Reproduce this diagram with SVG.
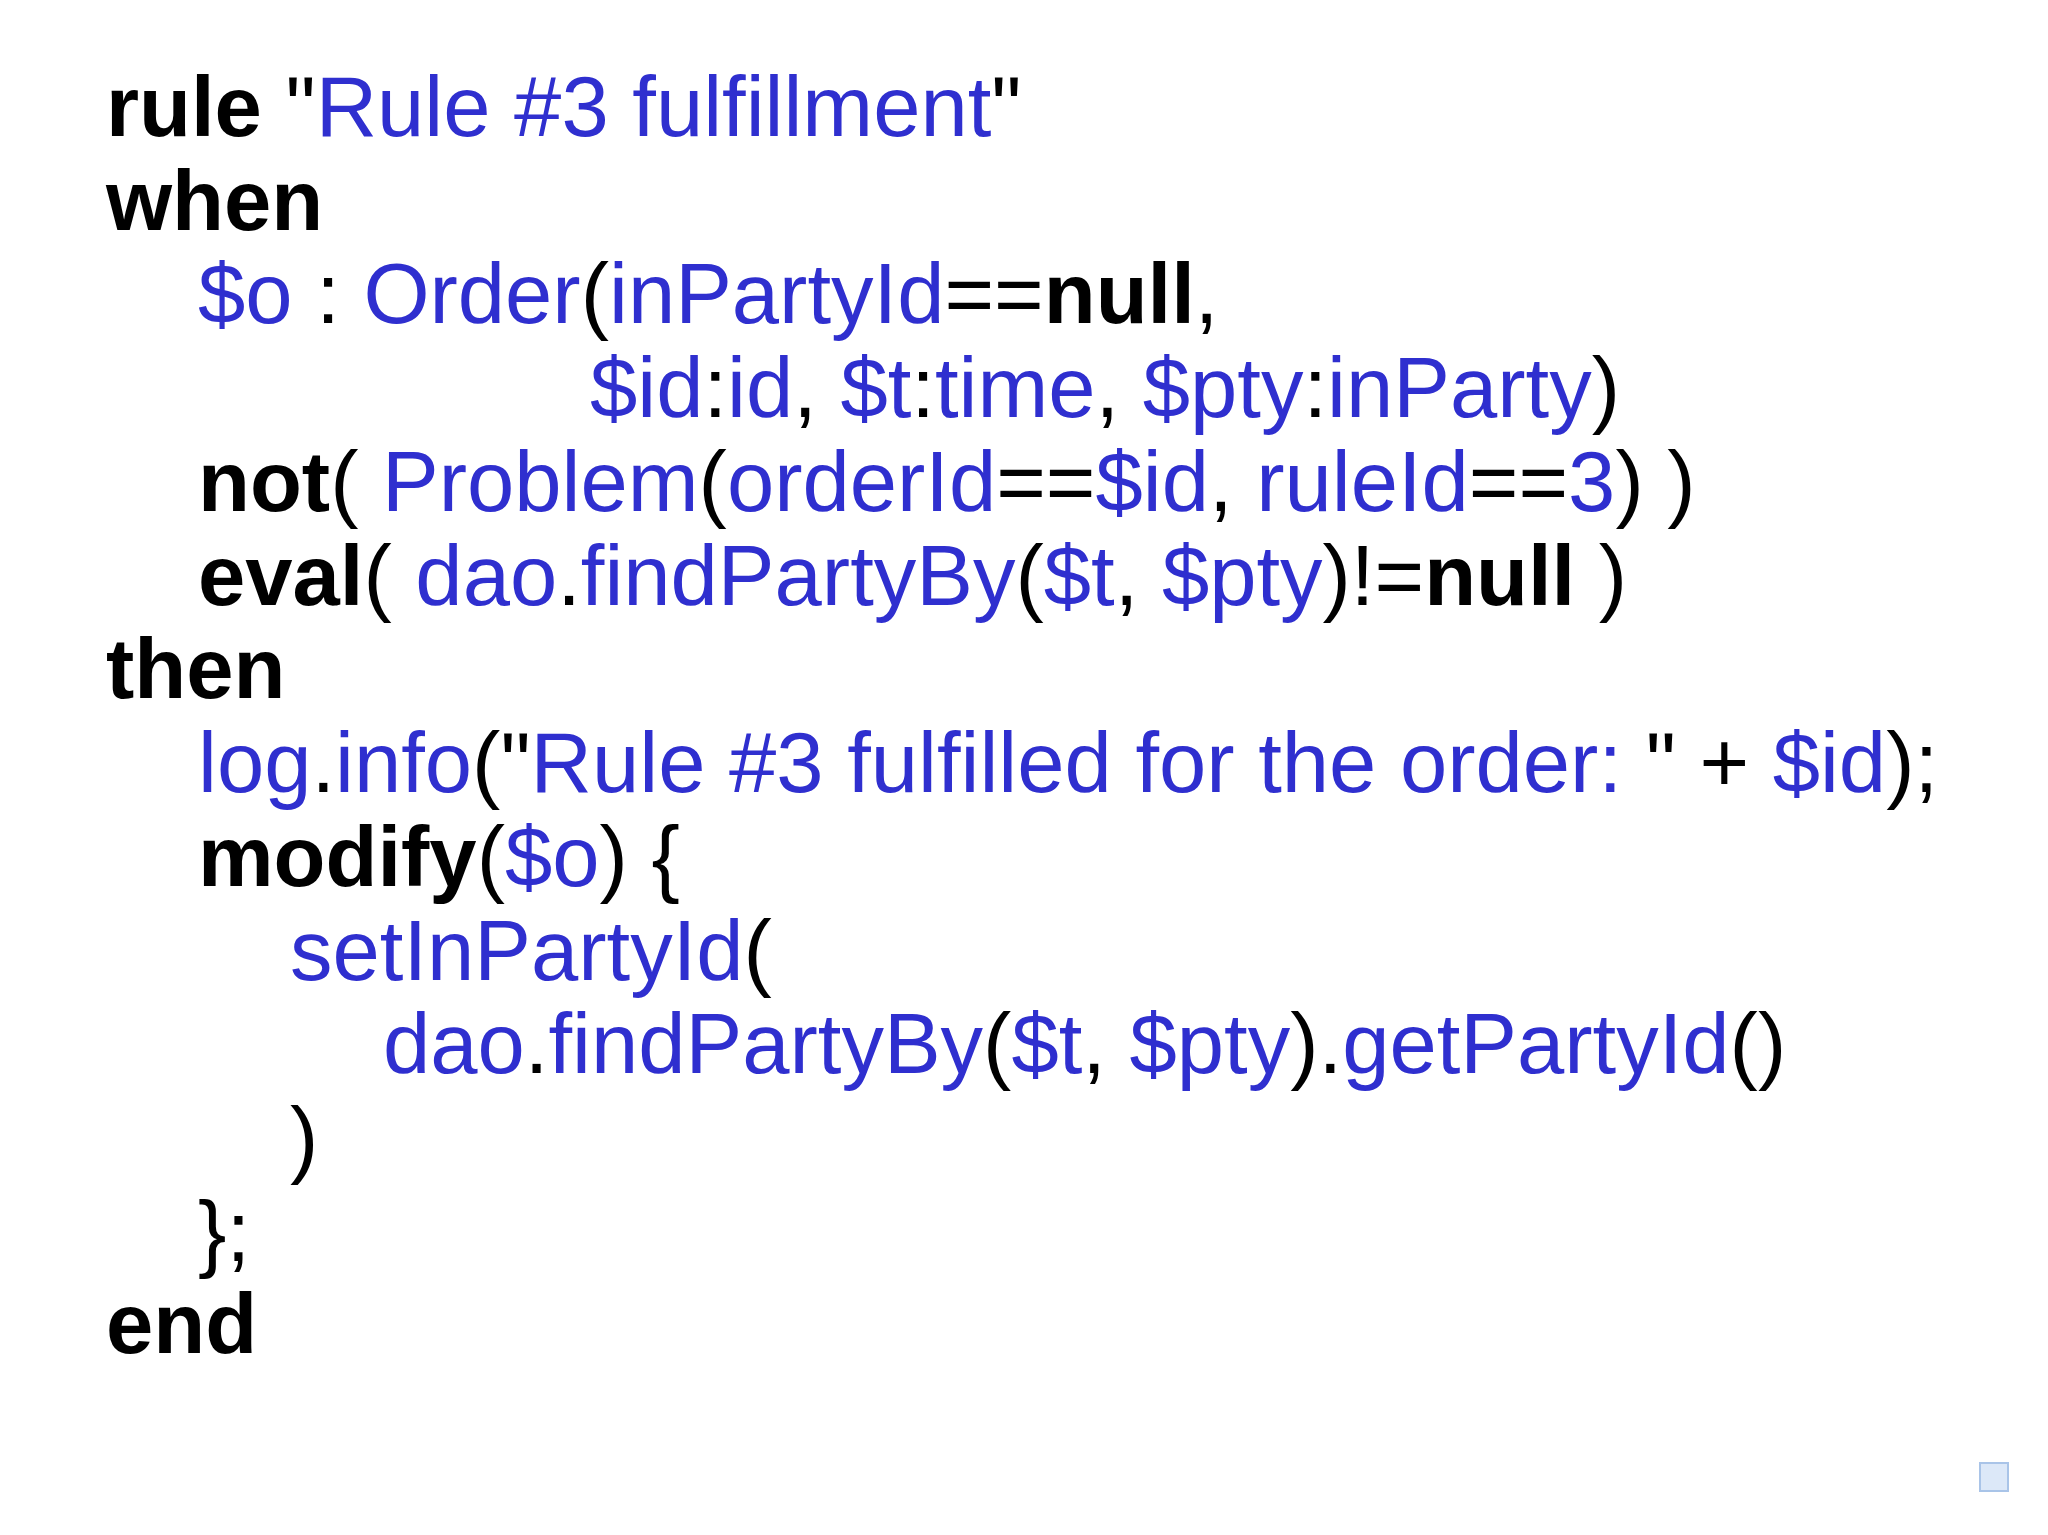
<svg xmlns="http://www.w3.org/2000/svg" width="2048" height="1535" viewBox="0 0 2048 1535">
<style>
text{font-family:"Liberation Sans",Arial,sans-serif;font-size:85px;fill:#000;white-space:pre}
.b{fill:#2f2fcf}
.k{font-weight:bold}
</style>
<rect width="2048" height="1535" fill="#fff"/>
<g id="code" xml:space="preserve">
<text x="106" y="136"><tspan class="k">rule</tspan> "<tspan class="b">Rule #3 fulfillment</tspan>"</text>
<text x="106" y="230" class="k">when</text>
<text x="198" y="323"><tspan class="b">$o</tspan> : <tspan class="b">Order</tspan>(<tspan class="b">inPartyId</tspan>==<tspan class="k">null</tspan>,</text>
<text x="590" y="417"><tspan class="b">$id</tspan>:<tspan class="b">id</tspan>, <tspan class="b">$t</tspan>:<tspan class="b">time</tspan>, <tspan class="b">$pty</tspan>:<tspan class="b">inParty</tspan>)</text>
<text x="198" y="511"><tspan class="k">not</tspan>( <tspan class="b">Problem</tspan>(<tspan class="b">orderId</tspan>==<tspan class="b">$id</tspan>, <tspan class="b">ruleId</tspan>==<tspan class="b">3</tspan>) )</text>
<text x="198" y="605"><tspan class="k">eval</tspan>( <tspan class="b">dao</tspan>.<tspan class="b">findPartyBy</tspan>(<tspan class="b">$t</tspan>, <tspan class="b">$pty</tspan>)!=<tspan class="k">null</tspan> )</text>
<text x="106" y="698" class="k">then</text>
<text x="198" y="792"><tspan class="b">log</tspan>.<tspan class="b">info</tspan>("<tspan class="b">Rule #3 fulfilled for the order: </tspan>" + <tspan class="b">$id</tspan>);</text>
<text x="198" y="886"><tspan class="k">modify</tspan>(<tspan class="b">$o</tspan>) {</text>
<text x="290" y="980"><tspan class="b">setInPartyId</tspan>(</text>
<text x="383" y="1073"><tspan class="b">dao</tspan>.<tspan class="b">findPartyBy</tspan>(<tspan class="b">$t</tspan>, <tspan class="b">$pty</tspan>).<tspan class="b">getPartyId</tspan>()</text>
<text x="290" y="1167">)</text>
<text x="198" y="1261">};</text>
<text x="106" y="1353" class="k">end</text>
</g>
<rect id="marker" x="1980" y="1463" width="28" height="28" fill="#dce8f8" stroke="#a9c4e8" stroke-width="2"/>
</svg>
